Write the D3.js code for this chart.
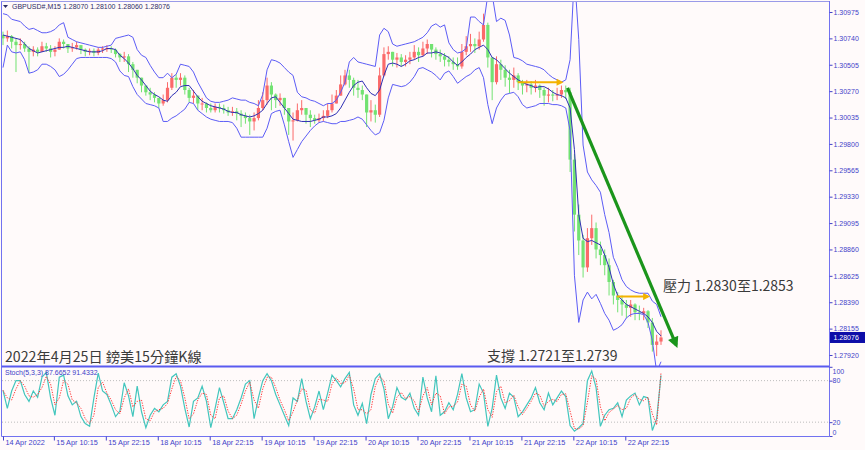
<!DOCTYPE html>
<html><head><meta charset="utf-8">
<script src="https://cdn.jsdelivr.net/npm/d3@7/dist/d3.min.js"></script>
<style>html,body{margin:0;padding:0;background:#fffafa;}svg{display:block}</style>
</head><body>
<svg id="chart" width="865" height="450"></svg>
<script>
// ---- hourly OHLC ----
const open = [1.3077,1.3074,1.3076,1.3071,1.3068,1.3069,1.3065,1.3062,1.3064,1.3062,
1.3067,1.3065,1.3062,1.3064,1.3071,1.3069,1.3065,1.3066,1.3068,1.3064,
1.3062,1.3063,1.3061,1.3064,1.3065,1.3065,1.3064,1.3060,1.3057,1.3058,
1.3051,1.3046,1.3039,1.3032,1.3026,1.3024,1.3021,1.3016,1.3019,1.3030,
1.3039,1.3037,1.3039,1.3028,1.3021,1.3023,1.3016,1.3016,1.3012,1.3010,
1.3013,1.3012,1.3010,1.3008,1.3009,1.3007,1.3005,1.3003,1.3000,1.3003,
1.3012,1.3019,1.3032,1.3024,1.3019,1.3021,1.3012,1.3000,1.3001,1.3010,
1.3012,1.3006,1.3003,1.3001,1.3003,1.3005,1.3010,1.3016,1.3023,1.3033,
1.3041,1.3037,1.3030,1.3028,1.3024,1.3008,1.3010,1.3006,1.3041,1.3060,
1.3062,1.3055,1.3057,1.3053,1.3055,1.3057,1.3062,1.3059,1.3065,1.3069,
1.3064,1.3060,1.3058,1.3055,1.3053,1.3051,1.3049,1.3062,1.3067,1.3069,
1.3067,1.3073,1.3086,1.3057,1.3035,1.3051,1.3046,1.3039,1.3037,1.3041,
1.3035,1.3032,1.3033,1.3030,1.3032,1.3028,1.3023,1.3024,1.3023,1.3024,
1.3028,1.3026,1.2966,1.2917,1.2894,1.2870,1.2896,1.2905,1.2886,1.2881,
1.2872,1.2857,1.2845,1.2841,1.2837,1.2834,1.2837,1.2830,1.2829,1.2831,
1.2821,1.2801,1.2804];
const high = [1.3080,1.3081,1.3077,1.3074,1.3074,1.3071,1.3067,1.3067,1.3066,1.3071,
1.3070,1.3068,1.3067,1.3074,1.3073,1.3069,1.3070,1.3071,1.3068,1.3065,
1.3065,1.3065,1.3066,1.3067,1.3068,1.3067,1.3065,1.3061,1.3062,1.3060,
1.3053,1.3046,1.3039,1.3032,1.3030,1.3026,1.3021,1.3024,1.3035,1.3043,
1.3042,1.3043,1.3041,1.3030,1.3028,1.3023,1.3021,1.3017,1.3016,1.3016,
1.3016,1.3015,1.3013,1.3013,1.3012,1.3010,1.3008,1.3006,1.3008,1.3019,
1.3026,1.3039,1.3035,1.3025,1.3025,1.3021,1.3012,1.3008,1.3016,1.3019,
1.3012,1.3010,1.3006,1.3007,1.3010,1.3016,1.3024,1.3028,1.3041,1.3046,
1.3046,1.3039,1.3037,1.3032,1.3024,1.3019,1.3015,1.3048,1.3066,1.3067,
1.3062,1.3061,1.3060,1.3059,1.3062,1.3068,1.3066,1.3071,1.3073,1.3069,
1.3066,1.3064,1.3061,1.3058,1.3057,1.3057,1.3069,1.3076,1.3078,1.3074,
1.3080,1.3096,1.3088,1.3057,1.3058,1.3055,1.3050,1.3046,1.3048,1.3043,
1.3037,1.3037,1.3036,1.3037,1.3033,1.3030,1.3030,1.3028,1.3030,1.3032,
1.3032,1.3030,1.2971,1.2926,1.2899,1.2905,1.2917,1.2910,1.2893,1.2886,
1.2878,1.2859,1.2848,1.2845,1.2841,1.2841,1.2838,1.2836,1.2834,1.2832,
1.2825,1.2810,1.2814];
const low = [1.3068,1.3071,1.3065,1.3044,1.3064,1.3062,1.3043,1.3058,1.3058,1.3062,
1.3062,1.3057,1.3058,1.3064,1.3065,1.3061,1.3062,1.3064,1.3060,1.3058,
1.3059,1.3058,1.3059,1.3061,1.3062,1.3061,1.3057,1.3053,1.3053,1.3044,
1.3039,1.3034,1.3026,1.3023,1.3019,1.3017,1.3012,1.3014,1.3017,1.3028,
1.3030,1.3032,1.3024,1.3017,1.3016,1.3010,1.3010,1.3008,1.3008,1.3008,
1.3008,1.3007,1.3005,1.3005,1.3001,1.2995,1.2998,1.2988,1.2992,1.3001,
1.3010,1.3015,1.3010,1.3012,1.3014,1.3006,1.2988,1.2983,1.3000,1.3006,
1.2998,1.2995,1.2998,1.2999,1.3000,1.3003,1.3008,1.3016,1.3023,1.3032,
1.3030,1.3023,1.3021,1.3019,1.2995,1.3000,1.2999,1.3004,1.3040,1.3055,
1.3049,1.3048,1.3049,1.3049,1.3051,1.3055,1.3053,1.3058,1.3060,1.3057,
1.3055,1.3053,1.3049,1.3049,1.3046,1.3046,1.3047,1.3059,1.3062,1.3061,
1.3064,1.3071,1.3048,1.3019,1.3033,1.3037,1.3031,1.3025,1.3030,1.3028,
1.3024,1.3026,1.3024,1.3026,1.3021,1.3014,1.3017,1.3018,1.3019,1.3021,
1.3020,1.2955,1.2902,1.2881,1.2861,1.2866,1.2890,1.2878,1.2872,1.2863,
1.2845,1.2837,1.2830,1.2827,1.2825,1.2826,1.2823,1.2823,1.2823,1.2816,
1.2795,1.2791,1.2801];
const close = [1.3074,1.3076,1.3071,1.3068,1.3069,1.3065,1.3062,1.3064,1.3062,1.3067,
1.3065,1.3062,1.3064,1.3071,1.3069,1.3065,1.3066,1.3068,1.3064,1.3062,
1.3063,1.3061,1.3064,1.3065,1.3065,1.3064,1.3060,1.3057,1.3058,1.3051,
1.3046,1.3039,1.3032,1.3026,1.3024,1.3021,1.3016,1.3019,1.3030,1.3039,
1.3037,1.3039,1.3028,1.3021,1.3023,1.3016,1.3016,1.3012,1.3010,1.3013,
1.3012,1.3010,1.3008,1.3009,1.3007,1.3005,1.3003,1.3000,1.3003,1.3012,
1.3019,1.3032,1.3024,1.3019,1.3021,1.3012,1.3000,1.3001,1.3010,1.3012,
1.3006,1.3003,1.3001,1.3003,1.3005,1.3010,1.3016,1.3023,1.3033,1.3041,
1.3037,1.3030,1.3028,1.3024,1.3008,1.3010,1.3006,1.3041,1.3060,1.3062,
1.3055,1.3057,1.3053,1.3055,1.3057,1.3062,1.3059,1.3065,1.3069,1.3064,
1.3060,1.3058,1.3055,1.3053,1.3051,1.3049,1.3062,1.3067,1.3069,1.3067,
1.3073,1.3086,1.3057,1.3035,1.3051,1.3046,1.3039,1.3037,1.3041,1.3035,
1.3032,1.3033,1.3030,1.3032,1.3028,1.3023,1.3024,1.3023,1.3024,1.3028,
1.3026,1.2966,1.2917,1.2894,1.2870,1.2896,1.2905,1.2886,1.2881,1.2872,
1.2857,1.2845,1.2841,1.2837,1.2834,1.2837,1.2830,1.2829,1.2831,1.2821,
1.2801,1.2804,1.28076];
// ---- Bollinger bands ----
const bbUpper = [1.3096,1.3095,1.3091,1.3090,1.3089,1.3085,1.3082,1.3083,1.3081,1.3079,
1.3079,1.3080,1.3082,1.3086,1.3088,1.3075,1.3073,1.3071,1.3070,1.3069,
1.3068,1.3067,1.3066,1.3066,1.3067,1.3068,1.3074,1.3075,1.3076,1.3077,
1.3075,1.3064,1.3059,1.3057,1.3050,1.3044,1.3039,1.3039,1.3043,1.3039,
1.3042,1.3051,1.3050,1.3049,1.3044,1.3035,1.3028,1.3021,1.3018,1.3017,
1.3017,1.3018,1.3019,1.3021,1.3020,1.3019,1.3019,1.3017,1.3016,1.3014,
1.3024,1.3046,1.3055,1.3054,1.3052,1.3048,1.3044,1.3041,1.3026,1.3022,
1.3021,1.3019,1.3018,1.3016,1.3014,1.3016,1.3016,1.3019,1.3026,1.3035,
1.3053,1.3057,1.3053,1.3052,1.3051,1.3050,1.3049,1.3077,1.3083,1.3080,
1.3069,1.3067,1.3068,1.3069,1.3070,1.3071,1.3073,1.3075,1.3079,1.3085,
1.3087,1.3084,1.3086,1.3070,1.3064,1.3061,1.3062,1.3065,1.3093,1.3093,
1.3089,1.3086,1.3113,1.3113,1.3089,1.3092,1.3090,1.3077,1.3057,1.3056,
1.3054,1.3051,1.3050,1.3049,1.3048,1.3046,1.3042,1.3039,1.3037,1.3035,
1.3037,1.3055,1.3131,1.3073,1.2979,1.2955,1.2948,1.2943,1.2937,1.2917,
1.2901,1.2879,1.2870,1.2859,1.2853,1.2850,1.2848,1.2847,1.2847,1.2847,
1.2840,1.2837,1.2826];
const bbMid = [1.3077,1.3076,1.3075,1.3074,1.3073,1.3069,1.3065,1.3063,1.3061,1.3062,
1.3063,1.3064,1.3065,1.3066,1.3066,1.3067,1.3066,1.3065,1.3064,1.3063,
1.3062,1.3062,1.3062,1.3063,1.3065,1.3065,1.3064,1.3059,1.3056,1.3052,
1.3047,1.3041,1.3037,1.3032,1.3027,1.3024,1.3022,1.3019,1.3018,1.3023,
1.3026,1.3031,1.3032,1.3032,1.3027,1.3022,1.3018,1.3016,1.3014,1.3013,
1.3012,1.3011,1.3009,1.3008,1.3008,1.3006,1.3005,1.3004,1.3005,1.3007,
1.3010,1.3016,1.3021,1.3022,1.3017,1.3012,1.3007,1.3002,1.3001,1.3000,
1.3000,1.3000,1.3001,1.3002,1.3004,1.3004,1.3005,1.3007,1.3012,1.3019,
1.3026,1.3032,1.3035,1.3036,1.3030,1.3025,1.3023,1.3028,1.3041,1.3051,
1.3052,1.3051,1.3049,1.3051,1.3054,1.3055,1.3057,1.3058,1.3061,1.3061,
1.3062,1.3061,1.3059,1.3057,1.3053,1.3050,1.3053,1.3057,1.3060,1.3064,
1.3066,1.3068,1.3064,1.3057,1.3055,1.3051,1.3047,1.3043,1.3040,1.3037,
1.3035,1.3033,1.3032,1.3030,1.3031,1.3031,1.3029,1.3026,1.3024,1.3023,
1.3021,1.3012,1.2975,1.2917,1.2896,1.2893,1.2894,1.2892,1.2890,1.2881,
1.2870,1.2855,1.2845,1.2841,1.2837,1.2835,1.2833,1.2831,1.2829,1.2826,
1.2821,1.2813,1.2809];
const bbLower = [1.3048,1.3068,1.3062,1.3061,1.3062,1.3055,1.3043,1.3044,1.3046,1.3051,
1.3051,1.3049,1.3046,1.3040,1.3042,1.3046,1.3051,1.3056,1.3057,1.3057,
1.3057,1.3057,1.3057,1.3057,1.3057,1.3056,1.3053,1.3045,1.3041,1.3040,
1.3031,1.3024,1.3020,1.3016,1.3015,1.3014,1.3012,1.3000,1.3000,1.3003,
1.3005,1.3008,1.3011,1.3017,1.3016,1.3010,1.3007,1.3004,1.3002,1.3001,
1.3000,1.3000,1.3000,1.2999,1.2994,1.2986,1.2986,1.2986,1.2986,1.2986,
1.2986,1.2994,1.3007,1.3009,1.3010,1.2997,1.2982,1.2968,1.2975,1.2982,
1.2987,1.2992,1.2996,1.2999,1.3000,1.2999,1.2998,1.2998,1.3000,1.3000,
1.3001,1.3002,1.3004,1.3002,1.2997,1.2992,1.2988,1.2990,1.3001,1.3021,
1.3033,1.3032,1.3031,1.3032,1.3035,1.3040,1.3047,1.3048,1.3046,1.3044,
1.3041,1.3037,1.3043,1.3045,1.3040,1.3034,1.3037,1.3040,1.3042,1.3046,
1.3048,1.3039,1.3015,1.2998,1.3012,1.3019,1.3024,1.3025,1.3026,1.3022,
1.3015,1.3012,1.3013,1.3014,1.3016,1.3016,1.3016,1.3015,1.3015,1.3014,
1.3012,1.2992,1.2863,1.2821,1.2841,1.2848,1.2842,1.2846,1.2838,1.2829,
1.2823,1.2814,1.2816,1.2819,1.2825,1.2828,1.2829,1.2829,1.2828,1.2821,
1.2805,1.2777,1.2786];
// ---- Stochastic (5,3,3) ----
const stochK = [66,40,65,80,80,60,50,65,56,85,
92,55,30,85,88,58,45,50,28,18,
14,55,91,65,60,45,28,36,77,58,
28,72,35,12,30,40,35,45,50,85,
90,72,40,13,50,55,72,50,12,40,
70,48,25,25,38,55,75,80,25,55,
80,90,80,60,45,30,15,55,50,83,
50,25,42,65,38,62,88,80,71,83,
92,45,30,47,18,60,83,90,68,25,
42,70,56,52,62,40,30,85,55,35,
87,30,35,48,38,60,90,55,35,38,
75,62,14,40,88,55,40,62,56,28,
35,45,55,70,48,38,62,45,55,65,
57,15,7,12,18,80,94,70,14,30,
38,40,48,28,52,58,62,45,57,55,
8,25,87.67];
const stochD = [66,55,52,68,80,72,58,56,60,70,
86,75,45,55,80,75,52,48,40,25,
18,30,70,78,62,52,38,32,55,68,
42,50,52,25,22,35,38,40,47,68,
86,80,55,25,32,52,62,60,30,25,
55,58,36,25,30,46,65,78,52,40,
68,85,85,70,52,38,22,35,52,68,
66,38,33,53,52,50,75,84,76,77,
88,68,38,38,32,38,72,86,80,46,
33,56,63,54,57,51,35,58,70,45,
62,58,32,42,43,49,75,72,45,36,
56,68,38,27,64,72,48,51,59,42,
31,40,50,62,59,43,50,53,50,60,
61,36,11,10,15,49,87,82,42,22,
34,39,44,38,40,55,60,53,51,56,
32,16,91.43];
// ---- labels / ticks ----
const symbolTitle = "GBPUSD#,M15";
const lastBar = ["1.28070","1.28100","1.28060","1.28076"];
const lastPrice = 1.28076;
const stochTitle = "Stoch(5,3,3)";
const stochLast = ["87.6652","91.4332"];
const priceTicks = [1.30975,1.30740,1.30505,1.30270,1.30035,1.29800,1.29565,1.29330,1.29095,1.28860,1.28625,1.28390,1.28155,1.27920];
const stochTicks = [100,80,20,0];
const stochLevels = [80,20];
const timeLabels = ["14 Apr 2022","15 Apr 10:15","15 Apr 22:15","18 Apr 10:15","18 Apr 22:15","19 Apr 10:15","19 Apr 22:15","20 Apr 10:15","20 Apr 22:15","21 Apr 10:15","21 Apr 22:15","22 Apr 10:15","22 Apr 22:15"];
const timeIdx = [0,11.75,23.75,35.75,47.75,59.75,71.75,83.75,95.75,107.75,119.75,131.75,143.75];
// annotations (bar index, price)
const trendLine = [[130.4,1.3030],[155.5,1.2801]];
const orangeArrows = [[[118.9,1.3035],[129.0,1.3035]],[[141.8,1.2844],[149.0,1.2844]]];
const titleNote = "2022年4月25日 鎊美15分鐘K線";
const resistNote = "壓力 1.2830至1.2853";
const supportNote = "支撐 1.2721至1.2739";

// ---- drawing ----
const svg = d3.select('#chart');
const FONT = "'Liberation Sans', Arial, sans-serif";
const CJK = "'Noto Sans CJK TC','Noto Sans CJK SC',sans-serif";
const axisBlue = '#4343c9', frameBlue = '#7272f0';
const upCol = '#fb6a6a', downCol = '#72e272';

svg.append('rect').attr('width',865).attr('height',450).attr('fill','#fffafa');

const x = d3.scaleLinear().domain([0, close.length-1]).range([3, 661]);
const y = d3.scaleLinear().domain([1.27822, 1.31064]).range([366, 2]);
const ys = d3.scaleLinear().domain([0,100]).range([436, 366.8]);

const defs = svg.append('defs');
defs.append('clipPath').attr('id','mainClip').append('rect').attr('x',2).attr('y',2).attr('width',827).attr('height',364);
defs.append('clipPath').attr('id','stClip').append('rect').attr('x',2).attr('y',367.5).attr('width',827).attr('height',68.5);
function marker(id, color, w, h){
  defs.append('marker').attr('id',id).attr('viewBox','0 0 10 10').attr('refX',7).attr('refY',5)
    .attr('markerWidth',w).attr('markerHeight',h).attr('orient','auto').attr('markerUnits','userSpaceOnUse')
    .append('path').attr('d','M0,0L10,5L0,10z').attr('fill',color);
}
marker('gArrow','#1b951b',13,11);
marker('oArrow','#f3b200',8,7);

const main = svg.append('g').attr('clip-path','url(#mainClip)');
const lineGen = d3.line().x((d,i)=>x(i)).y(d=>y(d));

// candles
const bars = close.map((c,i)=>({i, o:open[i], h:high[i], l:low[i], c}));
const bodyW = 3.2;
const cg = main.append('g');
cg.selectAll('line').data(bars).join('line')
  .attr('x1',d=>x(d.i)).attr('x2',d=>x(d.i))
  .attr('y1',d=>y(d.h)).attr('y2',d=>y(d.l))
  .attr('stroke',d=>d.c>=d.o?upCol:downCol).attr('stroke-width',1);
cg.selectAll('rect').data(bars).join('rect')
  .attr('x',d=>x(d.i)-bodyW/2).attr('width',bodyW)
  .attr('y',d=>y(Math.max(d.o,d.c)))
  .attr('height',d=>Math.max(1,Math.abs(y(d.o)-y(d.c))))
  .attr('fill',d=>d.c>=d.o?upCol:downCol);

// bands
main.append('path').attr('d',lineGen(bbUpper)).attr('fill','none').attr('stroke','#5c5cf6').attr('stroke-width',1);
main.append('path').attr('d',lineGen(bbLower)).attr('fill','none').attr('stroke','#5c5cf6').attr('stroke-width',1);
main.append('path').attr('d',lineGen(bbMid)).attr('fill','none').attr('stroke','#2f2fb4').attr('stroke-width',1);

// annotations
const ann = svg.append('g').attr('clip-path','url(#mainClip)');
orangeArrows.forEach(a=>{
  ann.append('line').attr('x1',x(a[0][0])).attr('y1',y(a[0][1])).attr('x2',x(a[1][0])).attr('y2',y(a[1][1]))
    .attr('stroke','#f3b200').attr('stroke-width',2).attr('marker-end','url(#oArrow)');
});
ann.append('line').attr('x1',x(trendLine[0][0])).attr('y1',y(trendLine[0][1]))
  .attr('x2',x(trendLine[1][0])).attr('y2',y(trendLine[1][1]))
  .attr('stroke','#1b951b').attr('stroke-width',3.2).attr('marker-end','url(#gArrow)');

// Chinese notes
svg.append('text').attr('x',5).attr('y',362).text(titleNote)
  .attr('font-family',CJK).attr('font-size',14.2).attr('fill','#3a3a3a');
svg.append('text').attr('x',663).attr('y',291).text(resistNote)
  .attr('font-family',CJK).attr('font-size',14).attr('fill','#3a3a3a');
svg.append('text').attr('x',487).attr('y',361).text(supportNote)
  .attr('font-family',CJK).attr('font-size',14).attr('fill','#3a3a3a');

// stochastic
const st = svg.append('g').attr('clip-path','url(#stClip)');
stochLevels.forEach(v=>{
  st.append('line').attr('x1',2).attr('x2',829).attr('y1',ys(v)).attr('y2',ys(v))
    .attr('stroke','#bdbdbd').attr('stroke-width',1).attr('stroke-dasharray','1,2');
});
const sLine = d3.line().x((d,i)=>x(i)).y(d=>ys(d));
st.append('path').attr('d',sLine(stochK)).attr('fill','none').attr('stroke','#43c6bd').attr('stroke-width',1.2);
st.append('path').attr('d',sLine(stochD)).attr('fill','none').attr('stroke','#ff3b3b').attr('stroke-width',1).attr('stroke-dasharray','1.3,1.3');

// frame
const fr = svg.append('g').attr('fill','none');
fr.append('line').attr('x1',1.5).attr('x2',1.5).attr('y1',1).attr('y2',436.5).attr('stroke',frameBlue);
fr.append('line').attr('x1',1.5).attr('x2',829.5).attr('y1',1.5).attr('y2',1.5).attr('stroke','#9a9ae8');
fr.append('line').attr('x1',1.5).attr('x2',829.5).attr('y1',366.5).attr('y2',366.5).attr('stroke','#5a5af0').attr('stroke-width',2);
fr.append('line').attr('x1',1.5).attr('x2',829.5).attr('y1',436.5).attr('y2',436.5).attr('stroke',frameBlue);

// right price axis
const pAxis = svg.append('g').attr('transform','translate(829.5,0)')
  .call(d3.axisRight(y).tickValues(priceTicks).tickSize(3).tickSizeOuter(0).tickFormat(d3.format('.5f')));
pAxis.select('.domain').attr('stroke',frameBlue).attr('d','M0,1V436');
pAxis.selectAll('.tick line').attr('stroke',axisBlue);
pAxis.selectAll('.tick text').attr('x',4).attr('fill',axisBlue).attr('font-family',FONT).attr('font-size',7);

// current price box
const pY = y(lastPrice);
svg.append('rect').attr('x',830).attr('y',pY-5.5).attr('width',35).attr('height',11).attr('fill','#0d0da8');
svg.append('text').attr('x',833.5).attr('y',pY).attr('dy','0.34em').text(d3.format('.5f')(lastPrice))
  .attr('fill','#ffffff').attr('font-family',FONT).attr('font-size',7);

// stoch axis
const sAxis = svg.append('g').attr('transform','translate(829.5,0)')
  .call(d3.axisRight(ys).tickValues(stochTicks).tickSize(3).tickSizeOuter(0));
sAxis.select('.domain').remove();
sAxis.selectAll('.tick line').attr('stroke',axisBlue);
sAxis.selectAll('.tick text').attr('x',3).attr('fill',axisBlue).attr('font-family',FONT).attr('font-size',7)
  .attr('dy',d=> d===100 ? '1.0em' : (d===0 ? '-0.25em' : '0.32em'));

// time axis
const tAxis = svg.append('g').attr('transform','translate(0,436.5)')
  .call(d3.axisBottom(x).tickValues(timeIdx).tickSize(4).tickSizeOuter(0).tickFormat((d,i)=>timeLabels[i]));
tAxis.select('.domain').remove();
tAxis.selectAll('.tick line').attr('stroke',axisBlue);
tAxis.selectAll('.tick text').attr('text-anchor','start').attr('x',2).attr('y',3).attr('dy','0.71em')
  .attr('fill',axisBlue).attr('font-family',FONT).attr('font-size',7.3);

// header
svg.append('path').attr('d','M3,5L8,5L5.5,8Z').attr('fill','#2c2c66');
svg.append('text').attr('x',12).attr('y',9).text(symbolTitle + '  ' + lastBar.join(' '))
  .attr('fill','#2c2c66').attr('font-family',FONT).attr('font-size',7);
svg.append('text').attr('x',5).attr('y',374.5).text(stochTitle + ' ' + stochLast.join(' '))
  .attr('fill','#3c3cc8').attr('font-family',FONT).attr('font-size',7);
</script>
</body></html>
